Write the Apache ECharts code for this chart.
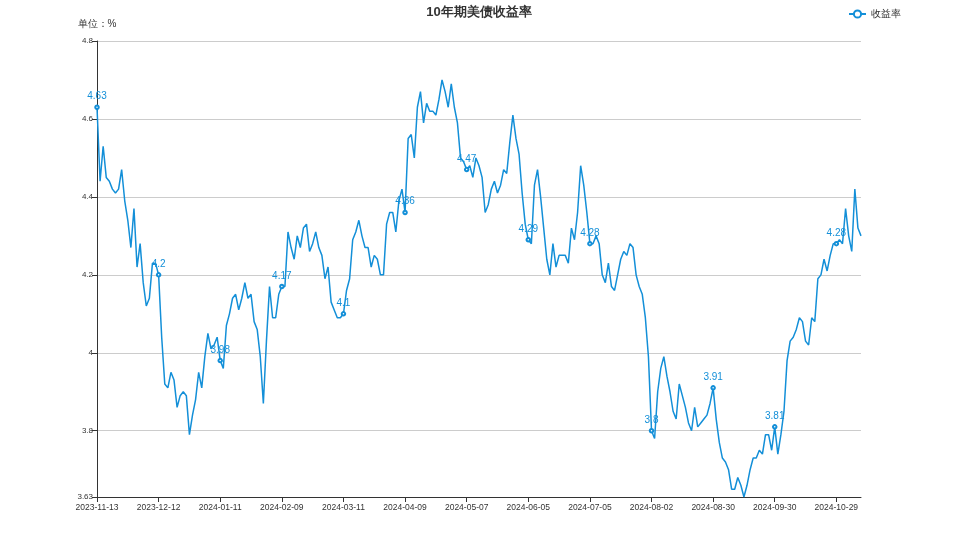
<!DOCTYPE html>
<html>
<head>
<meta charset="utf-8">
<script src="https://cdn.jsdelivr.net/npm/echarts@6/dist/echarts.min.js"></script>
<style>html,body{margin:0;padding:0;background:#fff}#c{width:958px;height:539px}</style>
</head>
<body>
<div id="c"></div>
<script>
const dates = [
"2023-11-13","2023-11-14","2023-11-15","2023-11-16","2023-11-17","2023-11-20","2023-11-21","2023-11-22","2023-11-24","2023-11-27","2023-11-28","2023-11-29","2023-11-30",
"2023-12-01","2023-12-04","2023-12-05","2023-12-06","2023-12-07","2023-12-08","2023-12-11","2023-12-12","2023-12-13","2023-12-14","2023-12-15","2023-12-18","2023-12-19","2023-12-20","2023-12-21","2023-12-22","2023-12-26","2023-12-27","2023-12-28","2023-12-29",
"2024-01-02","2024-01-03","2024-01-04","2024-01-05","2024-01-08","2024-01-09","2024-01-10","2024-01-11","2024-01-12","2024-01-16","2024-01-17","2024-01-18","2024-01-19","2024-01-22","2024-01-23","2024-01-24","2024-01-25","2024-01-26","2024-01-29","2024-01-30","2024-01-31",
"2024-02-01","2024-02-02","2024-02-05","2024-02-06","2024-02-07","2024-02-08","2024-02-09","2024-02-12","2024-02-13","2024-02-14","2024-02-15","2024-02-16","2024-02-20","2024-02-21","2024-02-22","2024-02-23","2024-02-26","2024-02-27","2024-02-28","2024-02-29",
"2024-03-01","2024-03-04","2024-03-05","2024-03-06","2024-03-07","2024-03-08","2024-03-11","2024-03-12","2024-03-13","2024-03-14","2024-03-15","2024-03-18","2024-03-19","2024-03-20","2024-03-21","2024-03-22","2024-03-25","2024-03-26","2024-03-27","2024-03-28",
"2024-04-01","2024-04-02","2024-04-03","2024-04-04","2024-04-05","2024-04-08","2024-04-09","2024-04-10","2024-04-11","2024-04-12","2024-04-15","2024-04-16","2024-04-17","2024-04-18","2024-04-19","2024-04-22","2024-04-23","2024-04-24","2024-04-25","2024-04-26","2024-04-29","2024-04-30",
"2024-05-01","2024-05-02","2024-05-03","2024-05-06","2024-05-07","2024-05-08","2024-05-09","2024-05-10","2024-05-13","2024-05-14","2024-05-15","2024-05-16","2024-05-17","2024-05-20","2024-05-21","2024-05-22","2024-05-23","2024-05-24","2024-05-28","2024-05-29","2024-05-30","2024-05-31",
"2024-06-03","2024-06-04","2024-06-05","2024-06-06","2024-06-07","2024-06-10","2024-06-11","2024-06-12","2024-06-13","2024-06-14","2024-06-17","2024-06-18","2024-06-20","2024-06-21","2024-06-24","2024-06-25","2024-06-26","2024-06-27","2024-06-28",
"2024-07-01","2024-07-02","2024-07-03","2024-07-05","2024-07-08","2024-07-09","2024-07-10","2024-07-11","2024-07-12","2024-07-15","2024-07-16","2024-07-17","2024-07-18","2024-07-19","2024-07-22","2024-07-23","2024-07-24","2024-07-25","2024-07-26","2024-07-29","2024-07-30","2024-07-31",
"2024-08-01","2024-08-02","2024-08-05","2024-08-06","2024-08-07","2024-08-08","2024-08-09","2024-08-12","2024-08-13","2024-08-14","2024-08-15","2024-08-16","2024-08-19","2024-08-20","2024-08-21","2024-08-22","2024-08-23","2024-08-26","2024-08-27","2024-08-28","2024-08-29","2024-08-30",
"2024-09-03","2024-09-04","2024-09-05","2024-09-06","2024-09-09","2024-09-10","2024-09-11","2024-09-12","2024-09-13","2024-09-16","2024-09-17","2024-09-18","2024-09-19","2024-09-20","2024-09-23","2024-09-24","2024-09-25","2024-09-26","2024-09-27","2024-09-30",
"2024-10-01","2024-10-02","2024-10-03","2024-10-04","2024-10-07","2024-10-08","2024-10-09","2024-10-10","2024-10-11","2024-10-15","2024-10-16","2024-10-17","2024-10-18","2024-10-21","2024-10-22","2024-10-23","2024-10-24","2024-10-25","2024-10-28","2024-10-29","2024-10-30","2024-10-31",
"2024-11-01","2024-11-04","2024-11-05","2024-11-06","2024-11-07","2024-11-08"
];

const yields = [
4.63,4.44,4.53,4.45,4.44,4.42,4.41,4.42,4.47,4.39,4.34,4.27,4.37,
4.22,4.28,4.18,4.12,4.14,4.23,4.23,4.20,4.04,3.92,3.91,3.95,3.93,3.86,3.89,3.90,3.89,3.79,3.84,3.88,
3.95,3.91,3.99,4.05,4.01,4.02,4.04,3.98,3.96,4.07,4.10,4.14,4.15,4.11,4.14,4.18,4.14,4.15,4.08,4.06,3.99,
3.87,4.03,4.17,4.09,4.09,4.15,4.17,4.17,4.31,4.27,4.24,4.30,4.27,4.32,4.33,4.26,4.28,4.31,4.27,4.25,
4.19,4.22,4.13,4.11,4.09,4.09,4.10,4.16,4.19,4.29,4.31,4.34,4.30,4.27,4.27,4.22,4.25,4.24,4.20,4.20,
4.33,4.36,4.36,4.31,4.39,4.42,4.36,4.55,4.56,4.50,4.63,4.67,4.59,4.64,4.62,4.62,4.61,4.65,4.70,4.67,4.63,4.69,
4.63,4.59,4.50,4.49,4.47,4.48,4.45,4.50,4.48,4.45,4.36,4.38,4.42,4.44,4.41,4.43,4.47,4.46,4.54,4.61,4.55,4.51,
4.41,4.33,4.29,4.28,4.43,4.47,4.40,4.32,4.24,4.20,4.28,4.22,4.25,4.25,4.25,4.23,4.32,4.29,4.36,
4.48,4.43,4.36,4.28,4.28,4.30,4.28,4.20,4.18,4.23,4.17,4.16,4.20,4.24,4.26,4.25,4.28,4.27,4.20,4.17,4.15,4.09,
3.99,3.80,3.78,3.90,3.96,3.99,3.94,3.90,3.85,3.83,3.92,3.89,3.86,3.82,3.80,3.86,3.81,3.82,3.83,3.84,3.87,3.91,
3.83,3.77,3.73,3.72,3.70,3.65,3.65,3.68,3.66,3.63,3.66,3.70,3.73,3.73,3.75,3.74,3.79,3.79,3.75,3.81,
3.74,3.79,3.85,3.98,4.03,4.04,4.06,4.09,4.08,4.03,4.02,4.09,4.08,4.19,4.20,4.24,4.21,4.25,4.28,4.28,4.29,4.28,
4.37,4.30,4.26,4.42,4.32,4.30
];

const titleText = "10年期美债收益率";
const seriesName = "收益率";
const yAxisName = "单位：%";

const lineColor = "#138fd8";
const chart = echarts.init(document.getElementById('c'), null, {renderer: 'canvas'});
chart.setOption({
  animation: false,
  title: {
    text: titleText, left: 'center', top: 1,
    textStyle: {fontSize: 13, fontWeight: 'bold', color: '#333'}
  },
  legend: {
    data: [seriesName], right: 52, top: 4,
    itemWidth: 17, itemHeight: 9, itemGap: 4,
    textStyle: {fontSize: 10, color: '#333'}
  },
  grid: {left: 97, right: 97, top: 41, bottom: 42},
  xAxis: {
    type: 'category', data: dates, boundaryGap: false,
    axisLine: {lineStyle: {color: '#333'}},
    axisTick: {interval: 19, lineStyle: {color: '#333'}},
    axisLabel: {interval: 19, fontSize: 8.5, color: '#333', margin: 6}
  },
  yAxis: {
    type: 'value', min: 'dataMin', max: 4.8,
    name: yAxisName, nameGap: 12,
    nameTextStyle: {fontSize: 10, color: '#333'},
    axisLine: {show: true, lineStyle: {color: '#333'}},
    axisTick: {show: true, lineStyle: {color: '#333'}},
    axisLabel: {fontSize: 8, color: '#333', margin: 4},
    splitLine: {lineStyle: {color: '#ccc'}}
  },
  series: [{
    name: seriesName, type: 'line', data: yields,
    symbol: 'emptyCircle', symbolSize: 3.5,
    lineStyle: {width: 1.5, color: lineColor},
    itemStyle: {color: lineColor, borderWidth: 1},
    label: {show: true, position: 'top', fontSize: 10, color: lineColor, distance: 3}
  }]
});
</script>
</body>
</html>
